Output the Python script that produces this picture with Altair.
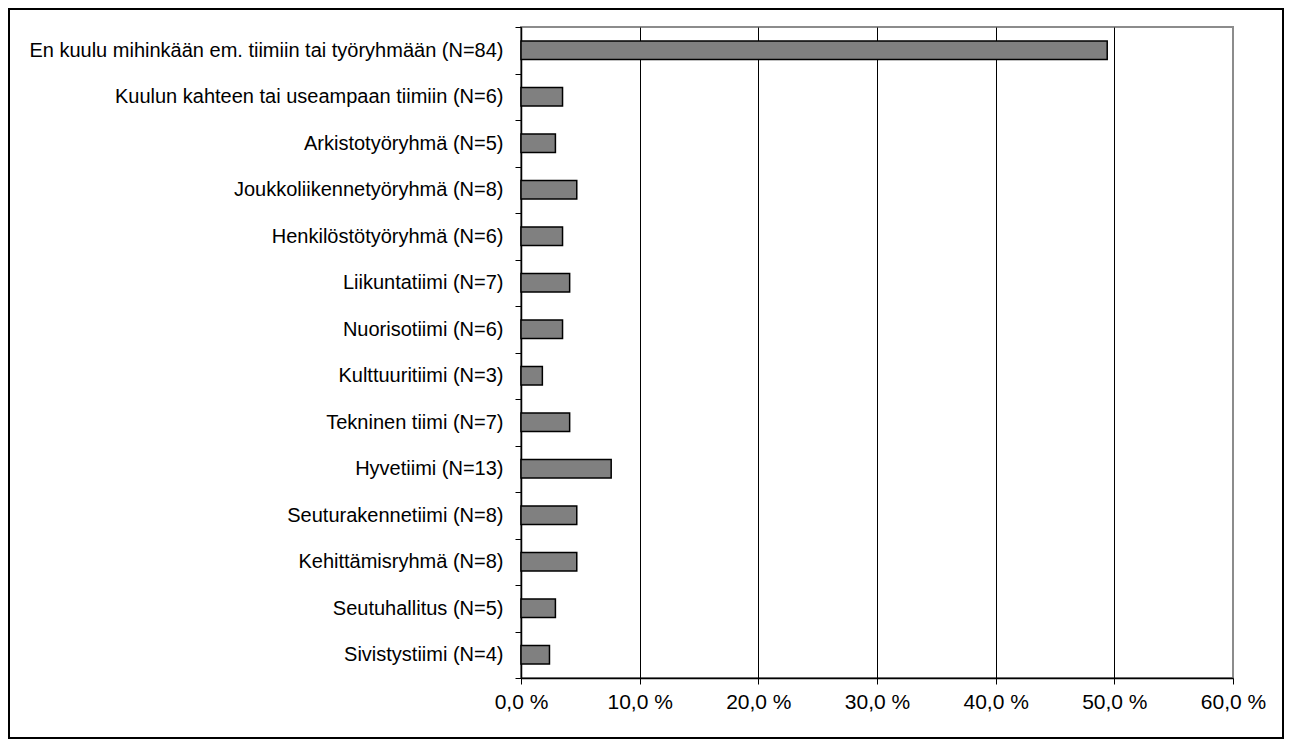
import altair as alt
import pandas as pd

categories = [
    "En kuulu mihinkään em. tiimiin tai työryhmään (N=84)",
    "Kuulun kahteen tai useampaan tiimiin (N=6)",
    "Arkistotyöryhmä (N=5)",
    "Joukkoliikennetyöryhmä (N=8)",
    "Henkilöstötyöryhmä (N=6)",
    "Liikuntatiimi (N=7)",
    "Nuorisotiimi (N=6)",
    "Kulttuuritiimi (N=3)",
    "Tekninen tiimi (N=7)",
    "Hyvetiimi (N=13)",
    "Seuturakennetiimi (N=8)",
    "Kehittämisryhmä (N=8)",
    "Seutuhallitus (N=5)",
    "Sivistystiimi (N=4)",
]
percent = [49.4, 3.5, 2.9, 4.7, 3.5, 4.1, 3.5, 1.8, 4.1, 7.6, 4.7, 4.7, 2.9, 2.4]
x_ticks = [0, 10, 20, 30, 40, 50, 60]

df = pd.DataFrame({"cat": categories, "pct": percent})

FONT = "Liberation Sans"
W, H = 712, 651
PAD = {"left": 513, "top": 19, "right": 51, "bottom": 61}

bars = alt.Chart(df).mark_bar(
    color="#808080", stroke="black", strokeWidth=1.5, height={"band": 0.4}
).encode(
    x=alt.X(
        "pct:Q",
        scale=alt.Scale(domain=[0, 60], nice=False),
        axis=alt.Axis(
            title=None,
            values=x_ticks,
            labelExpr="replace(format(datum.value, '.1f'), '.', ',') + ' %'",
            labelFlush=False,
            grid=True,
            gridColor={"condition": {"test": "datum.value === 60", "value": "#8c8c8c"}, "value": "black"},
            gridWidth=1,
            domainColor="black",
            domainWidth=1.5,
            tickColor="black",
            tickSize=6,
            labelPadding=7,
            labelFont=FONT,
            labelFontSize=21,
            labelColor="black",
        ),
    ),
    y=alt.Y(
        "cat:N",
        sort=categories,
        scale=alt.Scale(paddingInner=0, paddingOuter=0),
        axis=alt.Axis(
            title=None,
            tickBand="extent",
            domainColor="black",
            domainWidth=1.5,
            tickColor="black",
            tickSize=6,
            labelPadding=12,
            labelFont=FONT,
            labelFontSize=20,
            labelColor="black",
            labelLimit=600,
        ),
    ),
)

frame = alt.Chart(alt.Data(values=[{}])).mark_rect(
    fill=None, stroke="black", strokeWidth=2
).encode(
    x=alt.value(-PAD["left"] + 1),
    x2=alt.value(W + PAD["right"] - 1),
    y=alt.value(-PAD["top"] + 1),
    y2=alt.value(H + PAD["bottom"] - 1),
)

chart = alt.layer(bars, frame).properties(
    width=W, height=H, padding=PAD, autosize="none", background="white"
).configure_view(stroke="#8c8c8c", strokeWidth=2)

chart.save("out.html", embed_options={"renderer": "svg", "actions": False})
